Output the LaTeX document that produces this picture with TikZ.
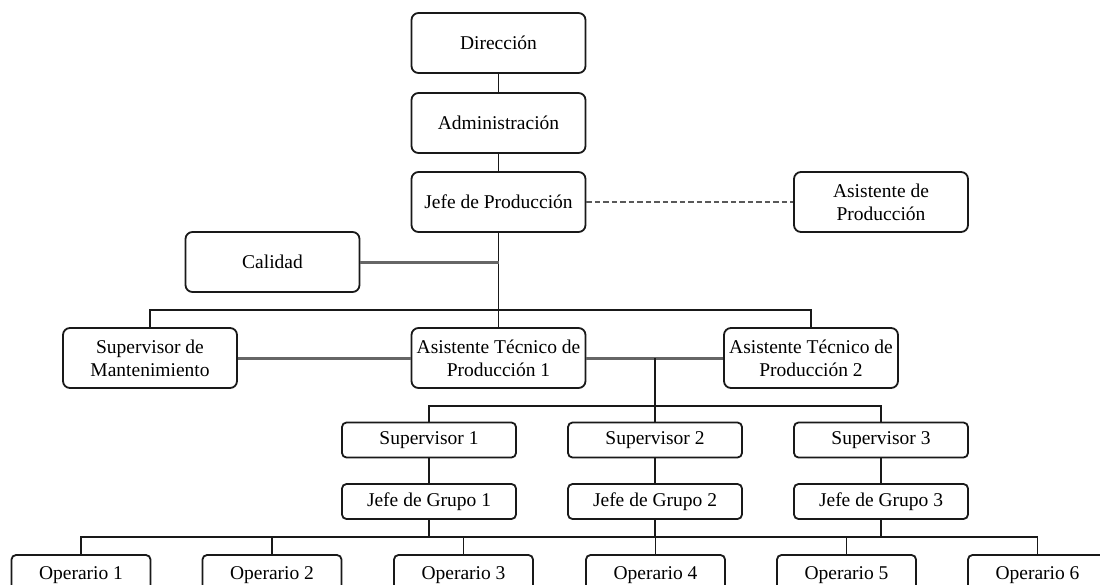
\documentclass[tikz,border=0pt]{standalone}
\usepackage{fontspec}
\setmainfont{Liberation Serif}
\begin{document}
\begin{tikzpicture}[x=1pt,y=-1pt,
  box/.style={draw=black!90, line width=1.8pt, rounded corners=7pt, fill=white,
    align=center, inner sep=0pt, font=\fontsize{19.5}{23}\selectfont},
  bigbox/.style={box, minimum width=174pt, minimum height=60pt},
  smallbox/.style={box, rounded corners=4.5pt, minimum width=174pt, minimum height=35pt},
  opbox/.style={box, rounded corners=4.5pt, minimum width=139pt, minimum height=40pt},
  link/.style={draw=black!90, line width=1.6pt},
  side/.style={draw=black!60, line width=3pt},
  assist/.style={draw=black!65, line width=2.2pt, dash pattern=on 5.5pt off 3pt}]
\useasboundingbox (0,0) rectangle (1100,584);
\clip (0,0) rectangle (1100,584);

% top of the hierarchy
\node[bigbox] (dir)  at (498.5,43)  {Dirección};
\node[bigbox] (adm)  at (498.5,123) {Administración};
\node[bigbox] (jefe) at (498.5,202) {Jefe de Producción};
\node[bigbox] (asis) at (881,202)   {Asistente de\\Producción};
\node[bigbox] (cal)  at (272.5,262) {Calidad};

% second level
\node[bigbox] (supm) at (150,358)   {Supervisor de\\Mantenimiento};
\node[bigbox] (atp1) at (498.5,358) {Asistente Técnico de\\Producción 1};
\node[bigbox] (atp2) at (811,358)   {Asistente Técnico de\\Producción 2};

% supervisors and group leaders
\node[smallbox] (sup1) at (429,440) {Supervisor 1};
\node[smallbox] (sup2) at (655,440) {Supervisor 2};
\node[smallbox] (sup3) at (881,440) {Supervisor 3};
\node[smallbox] (jg1)  at (429,501.5) {Jefe de Grupo 1};
\node[smallbox] (jg2)  at (655,501.5) {Jefe de Grupo 2};
\node[smallbox] (jg3)  at (881,501.5) {Jefe de Grupo 3};

% operators
\node[opbox] (op1) at (81,575)   {Operario 1};
\node[opbox] (op2) at (272,575)  {Operario 2};
\node[opbox] (op3) at (463.5,575) {Operario 3};
\node[opbox] (op4) at (655.5,575) {Operario 4};
\node[opbox] (op5) at (846.5,575) {Operario 5};
\node[opbox] (op6) at (1037.5,575) {Operario 6};

% bus coordinates
\coordinate (mbus) at (498.5,310);
\coordinate (tap)  at (655,358);
\coordinate (sbus) at (655,406);
\coordinate (obus) at (655,537);

% connectors
\draw[link] (dir.south) -- (adm.north);
\draw[link] (adm.south) -- (jefe.north);
\draw[assist] (jefe.east) -- (asis.west);
\draw[link] (jefe.south) -- (atp1.north);
\draw[side] (cal.east) -- (cal.east -| jefe.south);
\draw[link] (supm.north) |- (mbus) -| (atp2.north);
\draw[side] (supm.east) -- (atp1.west);
\draw[side] (atp1.east) -- (atp2.west);
\draw[link] (tap) -- (sup2.north);
\draw[link] (sup1.north) |- (sbus) -| (sup3.north);
\draw[link] (sup1.south) -- (jg1.north);
\draw[link] (sup2.south) -- (jg2.north);
\draw[link] (sup3.south) -- (jg3.north);
\draw[link] (op1.north) |- (obus) -| (op6.north);
\foreach \j in {jg1,jg2,jg3} \draw[link] (\j.south) -- (\j.south |- obus);
\foreach \o in {op2,op3,op4,op5} \draw[link] (\o.north) -- (\o.north |- obus);
\end{tikzpicture}
\end{document}
